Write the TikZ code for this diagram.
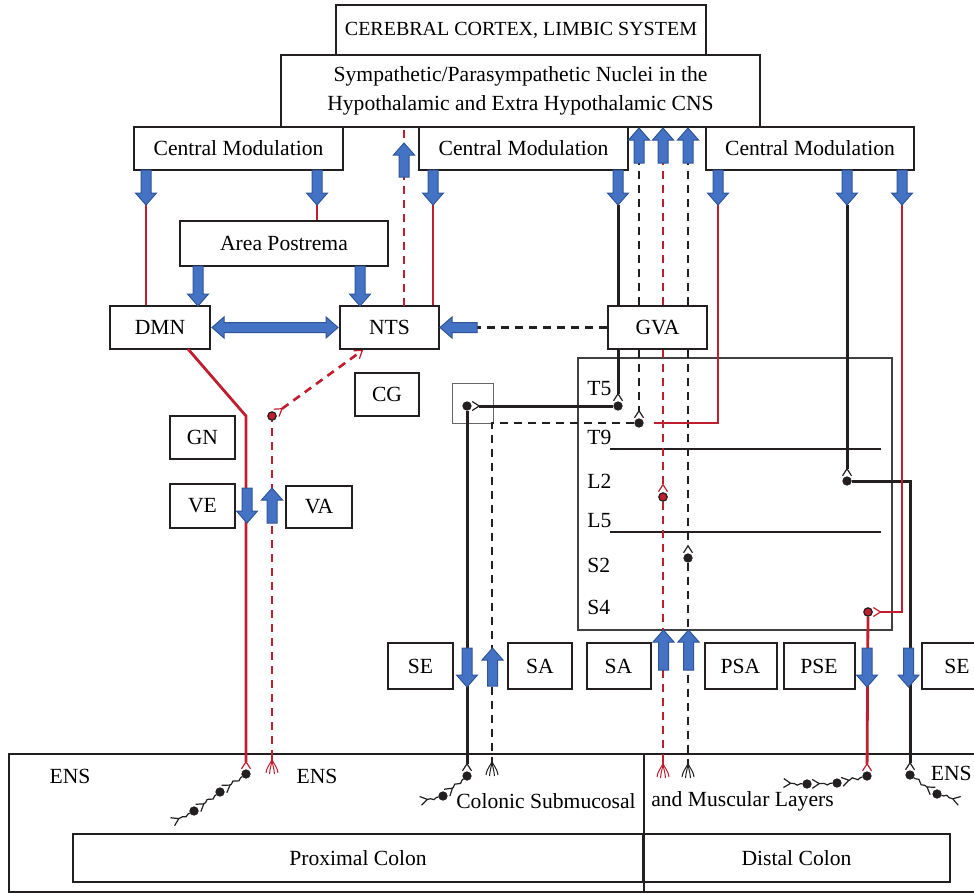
\documentclass[tikz,border=0pt]{standalone}
\usepackage{fontspec}
\setmainfont{Liberation Serif}
\definecolor{colorPara}{HTML}{BE1E2D}
\definecolor{colorSym}{HTML}{231F20}
\definecolor{colorBlock}{HTML}{4472C4}
\definecolor{colorBlockEdge}{HTML}{2F5597}
\usetikzlibrary{arrows.meta, decorations.pathmorphing, calc}
\tikzset{
  synapse/.tip={Straight Barb[reversed, length=3.5pt, width=4.5pt, line width=0.6pt]},
  barb/.tip={Straight Barb[length=3.5pt, width=5pt, line width=0.6pt]},
  box/.style={draw=colorSym, line width=1pt, fill=white, inner sep=0pt},
  sz/.style 2 args={minimum width=#1*0.5pt, minimum height=#2*0.5pt},
  seg/.style={anchor=west, inner sep=0pt},
  txt/.style={inner sep=0pt},
  paraE/.style={draw=colorPara, line width=1.4pt},
  paraA/.style={draw=colorPara, line width=1.3pt, dash pattern=on 4pt off 3pt},
  symE/.style={draw=colorSym, line width=1.5pt},
  symA/.style={draw=colorSym, line width=1.3pt, dash pattern=on 4pt off 3pt},
  level/.style={draw=colorSym, line width=0.6pt},
  soma/.style={circle, fill=colorSym, draw=colorSym, inner sep=0pt, minimum size=4.2pt},
  somaR/.style={soma, fill=colorPara, line width=0.6pt},
  fibre/.style={draw=colorSym, line width=0.6pt, decorate,
    decoration={snake, amplitude=0.8pt, segment length=5pt, pre length=1pt, post length=4pt}},
  block/.style={draw=colorBlockEdge, fill=colorBlock, line width=0.5pt},
  pics/blockdown/.style={code={
    \draw[block] (-5,0) -- (5,0) -- (5,#1-12) -- (10.5,#1-12) -- (0,#1)
      -- (-10.5,#1-12) -- (-5,#1-12) -- cycle;}},
  pics/fan/.style={code={
    \draw[line width=0.5pt] (0,0) .. controls (0,5) and (-5,7) .. (-6,15);
    \draw[line width=0.5pt] (0,0) .. controls (0,6) and (-2,9) .. (-2.5,16);
    \draw[line width=0.5pt] (0,0) .. controls (0,6) and (2,9) .. (2.5,16);
    \draw[line width=0.5pt] (0,0) .. controls (0,5) and (5,7) .. (6,15);}},
}

\begin{document}
\begin{tikzpicture}[x=0.5pt, y=-0.5pt, font=\fontsize{10.8}{14.5}\selectfont]
\useasboundingbox (0,0) rectangle (974,894);
\clip (0,0) rectangle (974,894);

\node[box, sz={370}{50}, font=\fontsize{10}{12}\selectfont] (cortex) at (521,30) {CEREBRAL CORTEX, LIMBIC SYSTEM};
\node[box, sz={479}{72}, align=center] (nuclei) at (520.5,91) {Sympathetic/Parasympathetic Nuclei in the\\Hypothalamic and Extra Hypothalamic CNS};
\node[box, sz={209}{43}] (cmA) at (238.5,148.5) {Central Modulation};
\node[box, sz={209}{43}] (cmB) at (523.5,148.5) {Central Modulation};
\node[box, sz={208}{43}] (cmC) at (810,148.5) {Central Modulation};
\node[box, sz={208}{45}] (ap) at (284,243.5) {Area Postrema};
\node[box, sz={100}{43}] (dmn) at (160,327.5) {DMN};
\node[box, sz={99}{43}] (nts) at (389.5,327.5) {NTS};
\node[box, sz={99}{43}] (gva) at (657.5,327.5) {GVA};
\node[box, sz={64}{43}] (cg) at (387,394.5) {CG};
\node[draw=black!60, line width=0.5pt, sz={41}{40}, inner sep=0pt] (gang) at (472.5,403) {};
\node[box, sz={65}{43}] (gn) at (202.5,437.5) {GN};
\node[box, sz={65}{44}] (ve) at (202.5,506) {VE};
\node[box, sz={66}{42}] (va) at (319,507) {VA};

\node[draw=black!75, line width=0.8pt, sz={314}{272}, inner sep=0pt] (cord) at (735,494) {};
\draw[level] (610,449) -- (881,449);
\draw[level] (610,532) -- (881,532);
\node[seg] (t5) at (587,389) {T5};
\node[seg] (t9) at (587,437) {T9};
\node[seg] (l2) at (587,481) {L2};
\node[seg] (l5) at (587,521) {L5};
\node[seg] (s2) at (587,565) {S2};
\node[seg] (s4) at (587,607) {S4};

\node[box, sz={65}{46}] (seA) at (420.5,666) {SE};
\node[box, sz={64}{46}] (saA) at (540,666) {SA};
\node[box, sz={64}{46}] (saB) at (618.5,666) {SA};
\node[box, sz={72}{46}] (psa) at (740.5,666) {PSA};
\node[box, sz={71}{46}] (pse) at (819,666) {PSE};
\node[box, sz={70}{46}, anchor=west] (seB) at (921,666) {SE};

\node[draw=colorSym, line width=1pt, sz={981}{138}, inner sep=0pt] (colon) at (499.5,823) {};
\node[box, sz={570}{48}] (prox) at (358,858) {Proximal Colon};
\node[box, sz={307}{48}] (dist) at (796.5,858) {Distal Colon};
\draw[colorSym, line width=1pt] (colon.north -| prox.east) -- (colon.south -| prox.east);
\node[txt] (ensA) at (70,776) {ENS};
\node[txt] (ensB) at (317,776) {ENS};
\node[txt, anchor=east] (ensC) at (972,773) {ENS};
\node[txt] (subm) at (546,801) {Colonic Submucosal};
\node[txt] (musc) at (742.5,801) {and Muscular Layers};

\node[somaR] (ng) at (272,416) {};
\node[soma] (dT5) at (618,406) {};
\node[soma] (dGang) at (467,406) {};
\node[soma] (dT9) at (639,423) {};
\node[somaR] (dL2) at (663,497) {};
\node[soma] (dS2) at (688,558) {};
\node[soma] (dL1) at (847,481) {};
\node[somaR] (dS4) at (868,612) {};

\node[soma] (eA1) at (246,774) {};
\node[soma] (eA2) at (220,792) {};
\node[soma] (eA3) at (194,811) {};
\coordinate (eA4) at (172,822);
\node[soma] (eB1) at (467,776) {};
\node[soma] (eB2) at (443,796) {};
\coordinate (eB3) at (420,801);
\node[soma] (eC1) at (867,776) {};
\node[soma] (eC2) at (837,783) {};
\node[soma] (eC3) at (807,784) {};
\coordinate (eC4) at (783,783);
\node[soma] (eD1) at (910,775) {};
\node[soma] (eD2) at (937,794) {};
\coordinate (eD3) at (960,801);

\coordinate (fA) at (272,758);
\coordinate (fB) at (492,760);
\coordinate (fC) at (663,762);
\coordinate (fD) at (688,762);

\coordinate (cA1) at (146,205);
\coordinate (cA2) at (317,205);
\coordinate (cB1) at (433,205);
\coordinate (cB2) at (618,205);
\coordinate (cC1) at (718,205);
\coordinate (cC2) at (847,205);
\coordinate (cC3) at (902,205);
\coordinate (up1) at (639,163);
\coordinate (up2) at (663,163);
\coordinate (up3) at (688,163);
\coordinate (ntsUp) at (404,306);
\coordinate (ntsIn) at (363,350);
\coordinate (dmnOut) at (188,349);
\coordinate (vKnee) at (246,416);
\coordinate (t9End) at (654,423);
\coordinate (gvaTail) at (477,327.5);

\draw [paraE] (cA1) -- (cA1 |- dmn.north);
\draw [paraE] (cA2) -- (cA2 |- ap.north);
\draw [paraE] (cB1) -- (cB1 |- nts.north);
\draw [paraA] (ntsUp) -- (ntsUp |- nuclei.south);
\draw [paraE, -{synapse}] (dmnOut) -- (vKnee) -- (eA1);
\draw [paraA] (fA) -- (ng);
\draw [paraA, {synapse}-{barb}] (ng) -- (ntsIn);

\draw [symE] (cB2) -- (cB2 |- gva.north);
\draw [symE, -{synapse}] (gva.south -| dT5) -- (dT5);
\draw [symE, -{synapse}] (dT5) -- (dGang);
\draw [symE, -{synapse}] (dGang) -- (eB1);
\draw [symA] (up1 |- gva.north) -- (up1);
\draw [paraA] (up2 |- gva.north) -- (up2);
\draw [symA] (up3 |- gva.north) -- (up3);
\draw [symA, -{synapse}] (gva.south -| dT9) -- (dT9);
\draw [paraA, -{synapse}] (gva.south -| dL2) -- (dL2);
\draw [symA, -{synapse}] (gva.south -| dS2) -- (dS2);
\draw [symA] (dT9) -| (fB);
\draw [paraA] (dL2) -- (fC);
\draw [symA] (dS2) -- (fD);
\draw [symA] (gva.west) -- (gvaTail);

\draw [paraE] (cC1) |- (t9End);
\draw [symE, -{synapse}] (cC2) -- (dL1);
\draw [symE, -{synapse}] (dL1) -| (eD1);
\draw [paraE, -{synapse}] (cC3) |- (dS4);
\draw [paraE, -{synapse}] (dS4) -- (eC1);

\pic [colorPara] at (fA) {fan};
\pic [colorSym] at (fB) {fan};
\pic [colorPara] at (fC) {fan};
\pic [colorSym] at (fD) {fan};

\draw [fibre, -{synapse}] (eA1) -- (eA2);
\draw [fibre, -{synapse}] (eA2) -- (eA3);
\draw [fibre, -{synapse}] (eA3) -- (eA4);
\draw [fibre, -{synapse}] (eB1) -- (eB2);
\draw [fibre, -{synapse}] (eB2) -- (eB3);
\draw [fibre, -{synapse}] (eC1) -- (eC2);
\draw [fibre, -{synapse}] (eC2) -- (eC3);
\draw [fibre, -{synapse}] (eC3) -- (eC4);
\draw [fibre, -{synapse}] (eD1) -- (eD2);
\draw [fibre, -{synapse}] (eD2) -- (eD3);

\pic at (146,170) {blockdown=35};
\pic at (317,170) {blockdown=35};
\pic at (433,170) {blockdown=35};
\pic at (618,170) {blockdown=35};
\pic at (718,170) {blockdown=35};
\pic at (847,170) {blockdown=35};
\pic at (902,170) {blockdown=35};
\pic [rotate=180] at (404,177) {blockdown=34};
\pic [rotate=180] at (639,163) {blockdown=35};
\pic [rotate=180] at (663,163) {blockdown=35};
\pic [rotate=180] at (688,163) {blockdown=35};
\pic at (198,266) {blockdown=40};
\pic at (360,266) {blockdown=40};
\pic [rotate=-90] at (gvaTail) {blockdown=37};
\draw [block] (212,327.5) -- (224,317) -- (224,322.5) -- (326,322.5) -- (326,317) -- (338,327.5)
  -- (326,338) -- (326,332.5) -- (224,332.5) -- (224,338) -- cycle;
\pic at (247,488) {blockdown=35};
\pic [rotate=180] at (272,523) {blockdown=35};
\pic at (467,648) {blockdown=39};
\pic [rotate=180] at (492.5,686) {blockdown=38};
\pic [rotate=180] at (663.5,670) {blockdown=40};
\pic [rotate=180] at (688.5,670) {blockdown=40};
\pic at (867,648) {blockdown=39};
\pic at (908.5,648) {blockdown=39};
\end{tikzpicture}
\end{document}
